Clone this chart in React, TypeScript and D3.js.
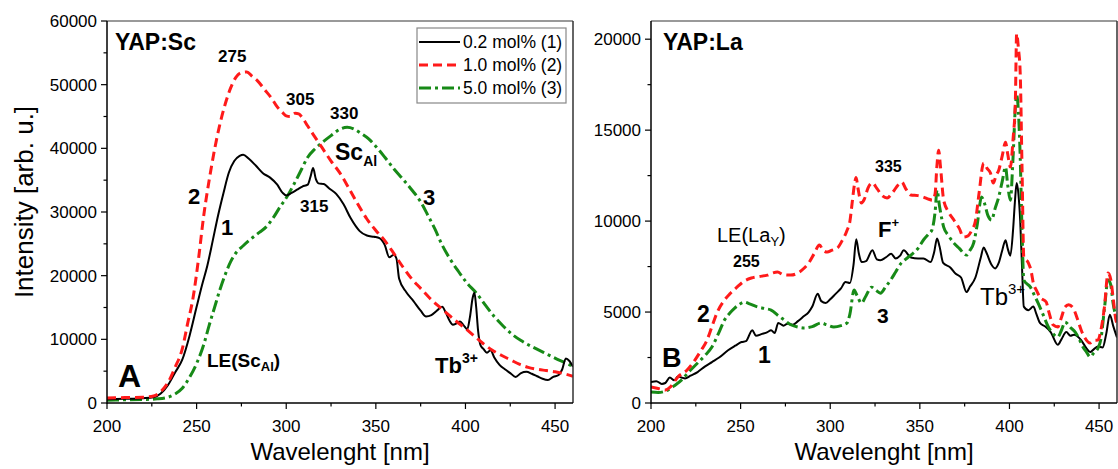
import React from 'react';
import * as d3 from 'd3';

type P = [number, number];

const xTickValues = [200, 250, 300, 350, 400, 450];
const scYTickValues = [0, 10000, 20000, 30000, 40000, 50000, 60000];
const laYTickValues = [0, 5000, 10000, 15000, 20000];
const legendLabels = ['0.2 mol% (1)', '1.0 mol% (2)', '5.0 mol% (3)'];

// YAP:Sc — 0.2 mol% (1)
const sc1: P[] = [[200,600],[210,650],[220,750],[226,900],[230,1500],[234,2800],[238,4800],[242,6800],[246,10500],[250,15100],[253,18500],[256,21600],[259,25500],[262,29500],[265,33000],[268,36200],[271,38000],[274,38800],[276,39000],[279,38400],[283,37300],[287,36100],[291,35400],[295,34300],[298,33000],[300,32600],[303,33000],[306,33500],[309,34000],[312,34300],[313.5,35500],[315,36900],[316.5,35200],[318,34500],[321,34400],[324,33700],[328,32800],[332,31200],[336,29000],[341,27000],[345,26300],[349,26100],[352,25900],[355,24800],[357.5,22900],[360,23300],[361.5,22700],[363,19500],[367,17400],[371,16000],[375,14500],[378,13600],[381,13800],[384,14500],[387,15100],[389,14200],[391,13000],[393,12300],[395,12500],[397,12800],[399,12200],[401,11600],[402.5,13500],[404,16500],[405,17300],[406,15000],[407,11500],[408.5,9000],[410,8500],[412,7900],[414,8300],[416,7200],[419,6000],[422,5300],[425,4700],[428,4100],[431,4700],[434,4900],[437,4600],[440,4200],[443,3800],[446,3600],[449,4100],[452,4400],[454,5300],[456,7000],[458,6600],[460,5700]];
// YAP:Sc — 1.0 mol% (2)
const sc2: P[] = [[200,800],[210,850],[220,900],[226,1100],[230,1800],[234,3200],[238,5600],[242,8500],[245,12500],[248,16500],[251,22500],[254,29500],[257,35000],[260,39800],[263,43800],[266,47000],[269,49500],[272,51200],[275,51900],[278,52000],[281,51300],[284,50600],[288,49200],[292,47800],[295,46500],[298,45600],[300,45100],[302,45000],[305,45500],[307,45400],[309,44800],[312,43500],[315,42200],[320,40100],[325,38000],[330,36100],[335,33700],[340,31200],[345,28900],[350,27100],[355,25500],[360,23500],[365,21400],[370,19500],[375,18000],[380,16500],[385,15200],[390,14000],[395,12800],[400,11700],[405,10500],[410,9300],[415,8300],[420,7500],[425,6800],[430,6100],[435,5600],[440,5300],[445,5100],[450,4900],[455,4600],[460,4200]];
// YAP:Sc — 5.0 mol% (3)
const sc3: P[] = [[200,450],[210,500],[220,550],[228,650],[234,900],[238,1400],[242,2300],[246,4000],[250,6200],[254,9200],[257,12200],[260,15000],[263,17800],[266,20200],[269,22200],[272,23600],[276,24700],[280,25700],[285,26800],[289,27700],[293,29200],[297,31000],[300,32200],[304,34200],[308,36400],[312,38600],[316,39900],[320,40900],[325,42000],[330,43000],[334,43300],[338,43000],[342,42300],[346,41500],[350,40300],[355,38600],[360,36800],[365,35200],[370,33500],[375,31600],[379,29500],[383,27300],[387,24800],[391,22800],[396,20700],[401,18800],[406,17300],[411,15400],[416,13600],[421,12100],[426,10800],[431,9800],[436,9000],[441,8300],[446,7600],[451,6900],[456,6300],[460,5700]];

// YAP:La — 0.2 mol% (1)
const la1: P[] = [[200,1150],[203,1200],[206,1050],[208,1100],[210.5,1400],[213,1250],[215,1450],[217,1400],[219,1350],[222,1500],[226,1700],[230,2000],[234,2250],[238,2500],[243,2900],[247,3150],[250.5,3350],[253,3400],[256.5,4000],[258.5,3700],[262,3800],[265,3900],[267,4000],[269,3850],[271,4400],[274,4250],[276,4350],[279,4300],[282,4500],[285,4750],[288,5000],[290,5300],[293,6000],[295,5600],[297.5,5500],[300,5700],[303,6000],[306,6300],[308.5,6650],[311,6600],[313,7600],[314.5,9000],[316,8200],[317.5,7750],[320,7800],[323.5,8400],[326,7900],[328,7850],[331,8000],[334,8200],[336.5,7950],[339,8100],[341,8400],[345,8000],[349,7950],[352,7950],[356,7750],[358,8300],[359.6,9050],[361,8600],[363,7700],[367,7450],[370,7100],[373,6900],[376,6100],[378,6400],[381,6900],[384,8000],[385.6,8550],[387,8300],[390,7600],[392,7400],[394,7700],[396,8400],[397.8,8950],[399,8500],[400.5,8100],[402,9500],[403,11000],[404,12100],[405,11500],[406,10000],[407,7500],[408,5300],[410.6,5100],[413.3,5300],[415,4900],[417,4400],[420,4200],[423,3900],[427,3200],[429,3500],[431.7,3900],[434,3700],[436,3750],[440,3450],[443,3000],[445,2800],[447,2950],[449.4,3100],[452,3050],[454,3800],[456,4850],[458,4200],[460,3600]];
// YAP:La — 1.0 mol% (2)
const la2: P[] = [[200,880],[204,800],[208,720],[211,900],[215,1430],[220,1800],[224.5,2360],[228,2900],[231,3400],[234,4200],[237,5000],[241,5660],[244,6000],[248,6370],[252,6700],[256,6870],[260,6950],[265,7030],[268,7150],[270.6,7200],[274,7050],[278,7030],[281,7100],[285.5,7420],[288,7700],[291,8200],[294,8680],[296,8400],[298.3,8300],[301,8400],[304,8520],[306.5,8900],[309.4,9500],[311,10000],[312,10800],[313.5,12000],[314.4,12400],[315.5,11800],[317.4,11000],[319,11200],[321,11800],[323.5,12100],[326,11800],[329,11400],[331.7,11270],[335,11600],[338,12000],[340,12140],[342,11800],[345,11430],[349,11400],[352,11320],[355,11200],[357,11150],[358.5,11500],[359.5,13000],[360.5,13900],[361.5,13000],[363.3,11150],[366,10500],[369,10060],[372,9600],[374.4,9120],[377,9200],[379,9500],[381,10000],[383,11500],[385.6,13190],[387.5,12900],[389.4,12640],[391,12090],[392.5,12500],[394,12800],[396,13600],[397.8,14340],[399,13700],[400.5,12970],[402,14500],[403.3,16650],[404,20300],[405,19500],[406,18130],[407,13000],[408,8020],[410.6,7690],[412,7300],[413.3,6600],[415,6200],[417,5820],[420.5,5550],[422,5000],[424.4,4290],[427,4180],[429,4700],[431,5280],[433,5400],[435.5,5220],[438,4600],[440,4010],[442,3600],[445,3300],[447,3450],[449.4,3460],[451,4000],[453,5280],[455,7140],[456.5,6800],[457.8,5820],[459.4,4560],[460,4400]];
// YAP:La — 5.0 mol% (3)
const la3: P[] = [[200,600],[204,580],[207,620],[209.4,710],[213,950],[217,1260],[221,1700],[226,2200],[230,2600],[234,3080],[238,3900],[241,4560],[244,4950],[246.7,5220],[249,5400],[252,5550],[255,5450],[259.4,5280],[263,5200],[267,5110],[271,4800],[274.4,4560],[278,4300],[281.7,4180],[285.5,4120],[290,4200],[295,4400],[298,4300],[302,4180],[306,4250],[309.4,4400],[311,4900],[313.3,6210],[315,5900],[317.4,5490],[320,5900],[323,6370],[325.5,6200],[328,6040],[331,6400],[333.7,6760],[336.5,7200],[339.6,7690],[342,7900],[345,8130],[349,8500],[352,8960],[355,9300],[356.7,9500],[358.5,10500],[359.6,11700],[361,10800],[363.3,9670],[366,9200],[369,8790],[372,8500],[376,8130],[378,8400],[380,8790],[382,9800],[384.4,11320],[386,11000],[388,10300],[390,10060],[392,10700],[394,11320],[396,12200],[397.8,12970],[399,12000],[400.5,11150],[402,13500],[403.3,16260],[404,16920],[405,16000],[406,13500],[407,9500],[408,6760],[411.7,6370],[414,5900],[416,5490],[419,4800],[421.7,4180],[424,3850],[427,3630],[429,4000],[431,4450],[434,4150],[436.7,3900],[439,3500],[441,3080],[443,2800],[445,2530],[447,2750],[449.4,3020],[451,3500],[453,5200],[455,6760],[456.5,6500],[457.8,5490],[460,4600]];

const FONT = "'Liberation Sans', Arial, Helvetica, sans-serif";
const STYLES = [
  { color: '#000000', width: 2, dash: undefined as string | undefined },
  { color: '#ff1a1a', width: 3, dash: '9,5' },
  { color: '#178a17', width: 3, dash: '12,4,3,4' },
];

type PanelProps = {
  id: string;
  left: number; right: number; top: number; bottom: number;
  yMax: number; yTicks: number[]; yMinorStep: number;
  series: P[][];
  order: number[];
};

function Panel({ id, left, right, top, bottom, yMax, yTicks, yMinorStep, series, order }: PanelProps) {
  const x = d3.scaleLinear().domain([200, 460]).range([left, right]);
  const y = d3.scaleLinear().domain([0, yMax]).range([bottom, top]);
  const line = d3.line<P>().x(d => x(d[0])).y(d => y(d[1])).curve(d3.curveMonotoneX);
  const xMinor = d3.range(225, 460, 50);
  const yMinor = d3.range(yMinorStep, yMax, yMinorStep * 2);
  return (
    <g>
      <defs>
        <clipPath id={id}>
          <rect x={left} y={top} width={right - left} height={bottom - top} />
        </clipPath>
      </defs>
      <g clipPath={`url(#${id})`}>
        {order.map(i => (
          <path key={i} d={line(series[i]) || ''} fill="none" stroke={STYLES[i].color}
            strokeWidth={STYLES[i].width} strokeDasharray={STYLES[i].dash} strokeLinejoin="round" />
        ))}
      </g>
      <line x1={left} x2={right} y1={top} y2={top} stroke="#777" strokeWidth={1.5} />
      <line x1={right} x2={right} y1={top} y2={bottom} stroke="#333" strokeWidth={1.5} />
      <line x1={left} x2={left} y1={top} y2={bottom + 0.75} stroke="#000" strokeWidth={1.5} />
      <line x1={left} x2={right} y1={bottom} y2={bottom} stroke="#000" strokeWidth={1.5} />
      {xTickValues.map(v => (
        <g key={'xt' + v}>
          <line x1={x(v)} x2={x(v)} y1={bottom} y2={bottom + 6} stroke="#000" strokeWidth={1.2} />
          <text x={x(v)} y={bottom + 29} textAnchor="middle" fontSize={17} fontFamily={FONT}>{v}</text>
        </g>
      ))}
      {xMinor.map(v => (
        <line key={'xm' + v} x1={x(v)} x2={x(v)} y1={bottom} y2={bottom + 3.5} stroke="#000" strokeWidth={1.2} />
      ))}
      {yTicks.map(v => (
        <g key={'yt' + v}>
          <line x1={left - 6} x2={left} y1={y(v)} y2={y(v)} stroke="#000" strokeWidth={1.2} />
          <text x={left - 10} y={y(v) + 6} textAnchor="end" fontSize={17} fontFamily={FONT}>{v}</text>
        </g>
      ))}
      {yMinor.map(v => (
        <line key={'ym' + v} x1={left - 3.5} x2={left} y1={y(v)} y2={y(v)} stroke="#000" strokeWidth={1.2} />
      ))}
      <text x={(left + right) / 2} y={460} textAnchor="middle" fontSize={24} fontFamily={FONT}>Wavelenght [nm]</text>
    </g>
  );
}

export default function App() {
  const lgX = 417, lgY = 28;
  return (
    <svg width={1118} height={469} style={{ position: 'absolute', left: 0, top: 0, background: '#fff' }}
      fontFamily={FONT}>
      <rect x={0} y={0} width={1118} height={469} fill="#fff" />
      <Panel id="clipSc" left={107} right={573} top={21} bottom={403} yMax={60000}
        yTicks={scYTickValues} yMinorStep={5000} series={[sc1, sc2, sc3]} order={[2, 0, 1]} />
      <Panel id="clipLa" left={651} right={1117} top={21} bottom={403} yMax={21000}
        yTicks={laYTickValues} yMinorStep={2500} series={[la1, la2, la3]} order={[0, 2, 1]} />

      <text transform="translate(33,202) rotate(-90)" textAnchor="middle" fontSize={26}>Intensity [arb. u.]</text>

      {/* legend */}
      <rect x={lgX} y={lgY} width={149} height={75} fill="#fff" stroke="#888" strokeWidth={1.2} />
      {legendLabels.map((t, i) => (
        <g key={t}>
          <line x1={lgX + 2} x2={lgX + 43} y1={lgY + 14 + i * 23} y2={lgY + 14 + i * 23}
            stroke={STYLES[i].color} strokeWidth={STYLES[i].width} strokeDasharray={STYLES[i].dash} />
          <text x={lgX + 46} y={lgY + 20 + i * 23} fontSize={17.5}>{t}</text>
        </g>
      ))}

      {/* left panel annotations */}
      <g fontWeight="bold">
        <text x={115} y={50} fontSize={23}>YAP:Sc</text>
        <text x={218} y={62} fontSize={17}>275</text>
        <text x={286} y={105} fontSize={17}>305</text>
        <text x={330} y={119} fontSize={17}>330</text>
        <text x={300} y={212} fontSize={17}>315</text>
        <text x={335} y={160} fontSize={23}>Sc<tspan fontSize={14} dy={6}>Al</tspan></text>
        <text x={188} y={204} fontSize={22}>2</text>
        <text x={221} y={235} fontSize={22}>1</text>
        <text x={423} y={205} fontSize={22}>3</text>
        <text x={207} y={367} fontSize={19}>LE(Sc<tspan fontSize={13} dy={4}>Al</tspan><tspan dy={-4}>)</tspan></text>
        <text x={118} y={387} fontSize={32}>A</text>
        <text x={435} y={373} fontSize={22}>Tb<tspan fontSize={14} dy={-10}>3+</tspan></text>
      </g>

      {/* right panel annotations */}
      <text x={663} y={50} fontSize={23} fontWeight="bold">YAP:La</text>
      <text x={717} y={242} fontSize={20}>LE(La<tspan fontSize={13} dy={4}>Y</tspan><tspan dy={-4}>)</tspan></text>
      <text x={733} y={267} fontSize={16} fontWeight="bold">255</text>
      <text x={875} y={172} fontSize={16} fontWeight="bold">335</text>
      <text x={878} y={237} fontSize={22} fontWeight="bold">F<tspan fontSize={13} dy={-10}>+</tspan></text>
      <text x={697} y={322} fontSize={23} fontWeight="bold">2</text>
      <text x={758} y={363} fontSize={23} fontWeight="bold">1</text>
      <text x={877} y={323} fontSize={21} fontWeight="bold">3</text>
      <text x={662} y={367} fontSize={27} fontWeight="bold">B</text>
      <text x={980} y={305} fontSize={24}>Tb<tspan fontSize={15} dy={-11}>3+</tspan></text>
    </svg>
  );
}
